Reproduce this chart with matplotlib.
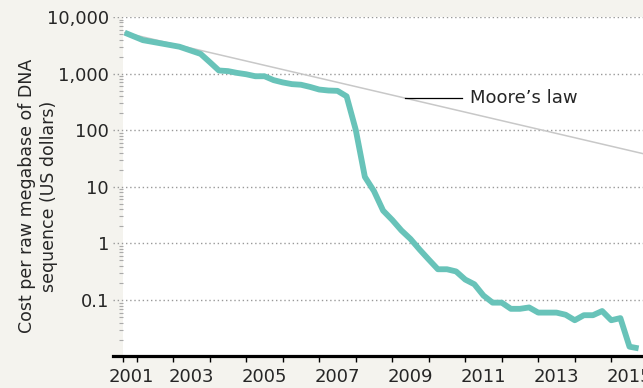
import matplotlib.pyplot as plt
from matplotlib.ticker import FixedLocator, NullFormatter, LogLocator

# cost per raw megabase of DNA sequence (US dollars), quarterly
years = [2001.67, 2002.17, 2002.67, 2003.17, 2003.75, 2004.0, 2004.25, 2004.5, 2004.75,
         2005.0, 2005.25, 2005.5, 2005.75, 2006.0, 2006.25, 2006.5, 2006.75,
         2007.0, 2007.25, 2007.5, 2007.75, 2008.0, 2008.25, 2008.5, 2008.75,
         2009.0, 2009.25, 2009.5, 2009.75, 2010.0, 2010.25, 2010.5, 2010.75,
         2011.0, 2011.25, 2011.5, 2011.75, 2012.0, 2012.25, 2012.5, 2012.75,
         2013.0, 2013.25, 2013.5, 2013.75, 2014.0, 2014.25, 2014.5, 2014.75,
         2015.0, 2015.25, 2015.5, 2015.75]
cost = [5292, 3899, 3414, 2986, 2231, 1599, 1136, 1107, 1029,
        974, 898, 899, 767, 699, 652, 636, 582,
        523, 503, 496, 397, 102, 15.0, 8.4, 3.8,
        2.6, 1.7, 1.2, 0.78, 0.52, 0.35, 0.35, 0.32,
        0.23, 0.19, 0.12, 0.09, 0.09, 0.07, 0.07, 0.074,
        0.06, 0.06, 0.06, 0.055, 0.044, 0.054, 0.054, 0.064,
        0.044, 0.048, 0.015, 0.014]

y_ticks = [0.1, 1, 10, 100, 1000, 10000]
y_labels = ["0.1", "1", "10", "100", "1,000", "10,000"]
x_labels = [2001, 2003, 2005, 2007, 2009, 2011, 2013, 2015]

bg = "#f4f3ee"
teal = "#68c3b9"
txt = "#262626"

plt.rcParams["font.family"] = "DejaVu Sans"

fig = plt.figure(figsize=(6.43, 3.88), dpi=100, facecolor=bg)
ax = fig.add_axes([113 / 643, 1 - 355.7 / 388, 530 / 643, 338.7 / 388])
ax.set_facecolor("white")

x_start = 2001.62
x_end = 2015.87
ax.set_xlim(2001.35, x_end)
ax.set_yscale("log")
ax.set_ylim(0.0104, 10000)

ax.axvspan(2001.35, x_start, color=bg, lw=0, zorder=0.1)

# Moore's law: halving every two years from the first data point
moore_x = [years[0], x_end]
moore_y = [cost[0] / 2 ** ((x - years[0]) / 2) for x in moore_x]
ax.plot(moore_x, moore_y, color="#c8c8c8", lw=1.1, zorder=2)

ax.plot(years, cost, color=teal, lw=4.2, solid_joinstyle="round",
        solid_capstyle="butt", zorder=3)

ax.plot([2009.35, 2010.9], [373, 373], color="black", lw=0.9, zorder=4)
ax.text(2011.12, 373, "Moore\u2019s law", fontsize=13, color=txt,
        va="center", ha="left")

# y axis
for s in ["top", "right"]:
    ax.spines[s].set_visible(False)
ax.spines["left"].set_position(("data", x_start))
ax.spines["left"].set_visible(False)
ax.yaxis.set_major_locator(FixedLocator(y_ticks))
ax.set_yticklabels(y_labels)
ax.yaxis.set_minor_locator(LogLocator(base=10, subs=range(2, 10)))
ax.yaxis.set_minor_formatter(NullFormatter())
ax.tick_params(axis="y", which="major", length=0, pad=10, labelsize=13,
               labelcolor=txt)
ax.tick_params(axis="y", which="minor", length=3, width=0.8, color="#aaaaaa",
               direction="out")
ax.grid(axis="y", which="major", color="#999999", ls=(0, (1, 2)), lw=1.0)
ax.set_axisbelow(True)

# x axis
ax.spines["bottom"].set_linewidth(2.3)
ax.spines["bottom"].set_color("black")
ax.xaxis.set_major_locator(FixedLocator([x_start] + list(range(2002, 2016))))
ax.xaxis.set_major_formatter(NullFormatter())
label_pos = [max(y + 0.5, 2001.85) for y in x_labels]
ax.xaxis.set_minor_locator(FixedLocator(label_pos))
ax.set_xticklabels([str(y) for y in x_labels], minor=True)
ax.tick_params(axis="x", which="major", length=4.5, width=1.0, color="black",
               direction="out")
ax.tick_params(axis="x", which="minor", length=0, pad=8.5, labelsize=13,
               labelcolor=txt)

fig.text(38 / 643, 1 - 196 / 388,
         "Cost per raw megabase of DNA\nsequence (US dollars)",
         rotation=90, ha="center", va="center", multialignment="center",
         fontsize=12.5, color=txt, linespacing=1.25)

fig.savefig("out.png", dpi=100, facecolor=bg)
